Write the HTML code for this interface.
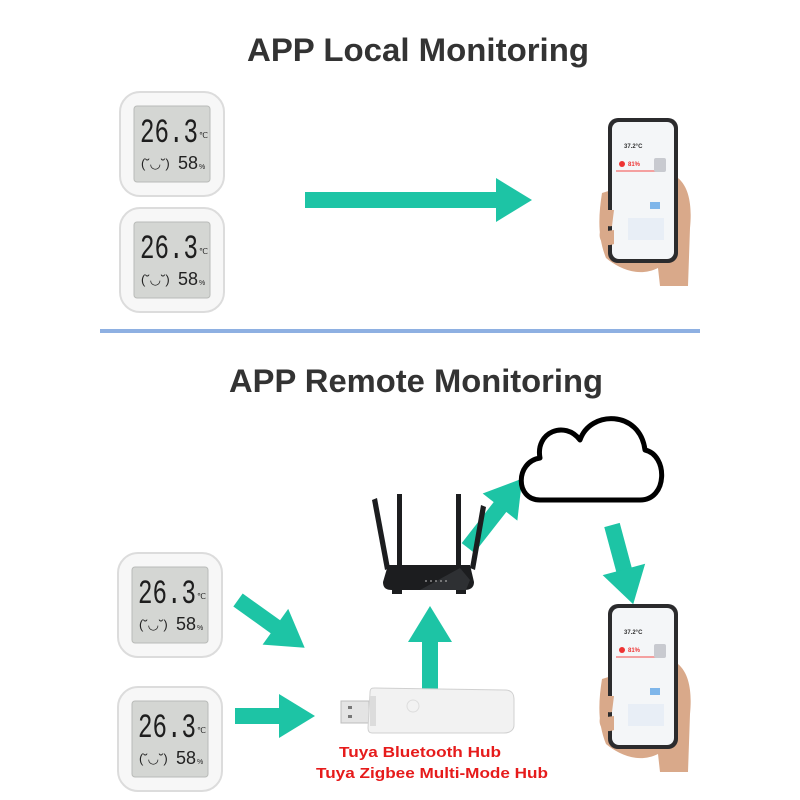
<!DOCTYPE html>
<html><head><meta charset="utf-8"><style>html,body{margin:0;padding:0;background:#fff}svg{display:block}</style></head>
<body>
<svg width="800" height="800" viewBox="0 0 800 800" xmlns="http://www.w3.org/2000/svg" font-family="Liberation Sans, sans-serif">
<defs>
  <g id="sensor">
    <rect x="0" y="0" width="104" height="104" rx="20" fill="#f7f7f7" stroke="#dcdcdc" stroke-width="2"/>
    <rect x="14" y="14" width="76" height="76" rx="3" fill="#d4d6d3" stroke="#b9bbb8" stroke-width="1"/>
    <text x="20" y="50" font-size="34" fill="#1e1e1e" font-family="Liberation Mono, monospace" textLength="58" lengthAdjust="spacingAndGlyphs">26.3</text>
    <text x="79" y="46" font-size="8" fill="#222">℃</text>
    <text x="21" y="76" font-size="13" fill="#222">(˘◡˘)</text>
    <text x="58" y="77" font-size="18" fill="#222" textLength="20" lengthAdjust="spacingAndGlyphs">58</text>
    <text x="79" y="77" font-size="7" fill="#222">%</text>
  </g>
  <polygon id="ah" points="-36,-22 0,0 -36,22"/>
  <g id="phone">
    <path d="M60,150 C40,160 20,150 8,140 C0,120 0,100 4,75 L20,70 L80,60 C92,70 94,90 92,110 L90,168 L62,168 Z" fill="#d9a98a"/>
    <rect x="10" y="0" width="70" height="145" rx="10" fill="#2b2b2d"/>
    <rect x="14" y="4" width="62" height="137" rx="7" fill="#f4f6f8"/>
    <text x="26" y="30" font-size="6" fill="#333" font-weight="bold">37.2°C</text>
    <circle cx="24" cy="46" r="3" fill="#e33"/>
    <text x="30" y="48" font-size="6" fill="#e33" font-weight="bold">81%</text>
    <rect x="18" y="52" width="40" height="2" fill="#f4a0a0"/>
    <rect x="56" y="40" width="12" height="14" rx="2" fill="#c8cad0"/>
    <rect x="52" y="84" width="10" height="7" fill="#7fb6ea"/>
    <rect x="30" y="100" width="36" height="22" fill="#e8eef6"/>
    <path d="M4,92 C0,100 4,110 14,108 L16,92 Z M2,114 C0,122 6,130 16,126 L16,112 Z" fill="#d9a98a"/>
  </g>
</defs>

<text x="418" y="61" font-size="32" font-weight="bold" fill="#333" text-anchor="middle" textLength="342" lengthAdjust="spacingAndGlyphs">APP Local  Monitoring</text>
<text x="416" y="392" font-size="32" font-weight="bold" fill="#333" text-anchor="middle" textLength="374" lengthAdjust="spacingAndGlyphs">APP Remote Monitoring</text>
<rect x="100" y="329" width="600" height="4" fill="#8eb0e2"/>

<use href="#sensor" x="120" y="92"/>
<use href="#sensor" x="120" y="208"/>
<use href="#sensor" x="118" y="553"/>
<use href="#sensor" x="118" y="687"/>

<g fill="#1dc4a5">
  <rect x="305" y="192" width="193" height="16"/>
  <use href="#ah" transform="translate(532,200)"/>
  <g transform="translate(238,600) rotate(35.6)"><rect x="0" y="-8" width="48" height="16"/><use href="#ah" x="82"/></g>
  <g transform="translate(235,716)"><rect x="0" y="-8" width="46" height="16"/><use href="#ah" x="80"/></g>
  <g transform="translate(430,706) rotate(-90)"><rect x="0" y="-8" width="66" height="16"/><use href="#ah" x="100"/></g>
  <g transform="translate(468,548) rotate(-52)"><rect x="0" y="-8" width="54" height="16"/><use href="#ah" x="88"/></g>
  <g transform="translate(612,525) rotate(75)"><rect x="0" y="-8" width="48" height="16"/><use href="#ah" x="82"/></g>
</g>

<use href="#phone" x="598" y="118"/>
<use href="#phone" x="598" y="604"/>

<!-- cloud -->
<path d="M540,500 C515,500 515,462 540,458 C535,432 565,420 580,440 C590,410 640,410 645,450 C668,455 668,500 640,500 Z" fill="#fff" stroke="#000" stroke-width="5" stroke-linejoin="round"/>

<!-- router -->
<g fill="#1c1d1f">
  <polygon points="372,500 377,498 390,568 385,570"/>
  <rect x="397" y="494" width="5" height="80"/>
  <rect x="456" y="494" width="5" height="80"/>
  <polygon points="481,505 486,507 475,570 470,568"/>
  <path d="M388,565 L470,565 L474,582 C474,588 470,590 464,590 L392,590 C386,590 383,588 383,582 Z"/>
  <rect x="392" y="589" width="10" height="5"/><rect x="456" y="589" width="10" height="5"/>
</g>
<path d="M420,590 L460,568 L470,580 L466,590 Z" fill="#2e3033"/>
<g fill="#aaa"><circle cx="426" cy="581" r="0.9"/><circle cx="431" cy="581" r="0.9"/><circle cx="436" cy="581" r="0.9"/><circle cx="441" cy="581" r="0.9"/><circle cx="446" cy="581" r="0.9"/></g>

<!-- hub -->
<rect x="341" y="701" width="28" height="22" fill="#e4e4e4" stroke="#bdbdbd"/>
<rect x="348" y="706" width="4" height="3" fill="#777"/><rect x="348" y="715" width="4" height="3" fill="#777"/>
<path d="M370,693 C370,688 372,688 375,688 L505,690 C512,690 514,694 514,700 L514,725 C514,730 510,733 504,733 L372,733 C369,733 368,731 368,728 Z" fill="#f2f2f2" stroke="#d0d0d0"/>
<rect x="370" y="696" width="6" height="30" fill="#dcdcdc"/>
<circle cx="413" cy="706" r="6" fill="none" stroke="#ddd"/>

<text x="420" y="757" font-size="15" font-weight="bold" fill="#e61b1b" text-anchor="middle" textLength="162" lengthAdjust="spacingAndGlyphs">Tuya Bluetooth Hub</text>
<text x="432" y="778" font-size="15" font-weight="bold" fill="#e61b1b" text-anchor="middle" textLength="232" lengthAdjust="spacingAndGlyphs">Tuya Zigbee Multi-Mode Hub</text>
</svg>
</body></html>
